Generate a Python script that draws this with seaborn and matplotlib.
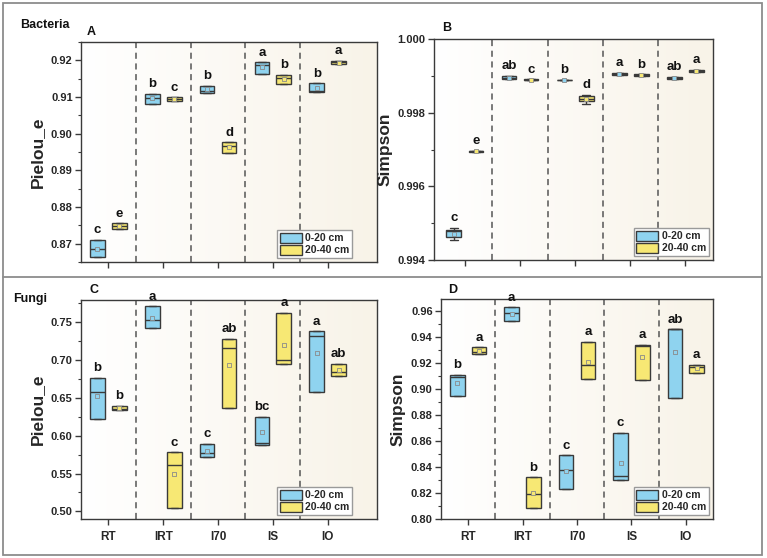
import matplotlib
matplotlib.use('Agg')
import matplotlib.pyplot as plt
from matplotlib.patches import Patch, Rectangle
from matplotlib.lines import Line2D
from matplotlib.colors import LinearSegmentedColormap
from matplotlib.ticker import FormatStrFormatter, MultipleLocator
import numpy as np
import pandas as pd
import seaborn as sns

# ---------------- data ----------------
groups = ['RT', 'IRT', 'I70', 'IS', 'IO']
depths = ['0-20 cm', '20-40 cm']

# A: bacteria, Pielou_e
A_lo_1 = [0.8664, 0.9082, 0.9112, 0.9162, 0.9115]
A_med_1 = [0.8685, 0.9096, 0.9116, 0.9188, 0.9117]
A_hi_1 = [0.8711, 0.9109, 0.9131, 0.9195, 0.9137]
A_mean_1 = [0.8686, 0.9096, 0.9121, 0.9183, 0.9125]
A_let_1 = ['c', 'b', 'b', 'a', 'b']
A_lo_2 = [0.8739, 0.9089, 0.8947, 0.9136, 0.9189]
A_med_2 = [0.8747, 0.9095, 0.8967, 0.9152, 0.9195]
A_hi_2 = [0.8756, 0.9099, 0.8976, 0.9161, 0.9199]
A_mean_2 = [0.8747, 0.9094, 0.8965, 0.9150, 0.9194]
A_let_2 = ['e', 'c', 'd', 'b', 'a']

# B: bacteria, Simpson
B_wlo_1 = [0.99453, 0.99891, 0.99888, 0.99902, 0.99891]
B_lo_1 = [0.99462, 0.99891, 0.99888, 0.99902, 0.99891]
B_med_1 = [0.99479, 0.99895, 0.99889, 0.99906, 0.99895]
B_hi_1 = [0.99482, 0.99900, 0.99890, 0.99909, 0.99898]
B_whi_1 = [0.99487, 0.99900, 0.99890, 0.99909, 0.99898]
B_mean_1 = [0.99471, 0.99895, 0.99889, 0.99906, 0.99895]
B_let_1 = ['c', 'ab', 'b', 'a', 'ab']
B_wlo_2 = [0.99692, 0.99888, 0.99824, 0.99900, 0.99911]
B_lo_2 = [0.99692, 0.99888, 0.99832, 0.99900, 0.99911]
B_med_2 = [0.99695, 0.99889, 0.99837, 0.99902, 0.99914]
B_hi_2 = [0.99697, 0.99891, 0.99844, 0.99904, 0.99916]
B_whi_2 = [0.99697, 0.99891, 0.99849, 0.99904, 0.99916]
B_mean_2 = [0.99695, 0.99889, 0.99838, 0.99902, 0.99914]
B_let_2 = ['e', 'c', 'd', 'b', 'a']

# C: fungi, Pielou_e
C_lo_1 = [0.6226, 0.7425, 0.5720, 0.5883, 0.6573]
C_med_1 = [0.6573, 0.7526, 0.5769, 0.5901, 0.7311]
C_hi_1 = [0.6762, 0.7711, 0.5892, 0.6248, 0.7381]
C_mean_1 = [0.6525, 0.7557, 0.5795, 0.6050, 0.7091]
C_let_1 = ['b', 'a', 'c', 'bc', 'a']
C_lo_2 = [0.6336, 0.5044, 0.6366, 0.6951, 0.6788]
C_med_2 = [0.6353, 0.5611, 0.7153, 0.7003, 0.6845]
C_hi_2 = [0.6397, 0.5782, 0.7276, 0.7623, 0.6946]
C_mean_2 = [0.6371, 0.5488, 0.6938, 0.7197, 0.6872]
C_let_2 = ['b', 'c', 'ab', 'a', 'ab']

# D: fungi, Simpson
D_lo_1 = [0.8948, 0.9523, 0.8231, 0.8298, 0.8930]
D_med_1 = [0.9092, 0.9585, 0.8380, 0.8329, 0.9461]
D_hi_1 = [0.9110, 0.9633, 0.8493, 0.8665, 0.9461]
D_mean_1 = [0.9050, 0.9582, 0.8370, 0.8434, 0.9289]
D_let_1 = ['b', 'a', 'c', 'c', 'ab']
D_lo_2 = [0.9269, 0.8085, 0.9081, 0.9068, 0.9127]
D_med_2 = [0.9284, 0.8193, 0.9189, 0.9335, 0.9171]
D_hi_2 = [0.9325, 0.8321, 0.9366, 0.9341, 0.9187]
D_mean_2 = [0.9297, 0.8203, 0.9212, 0.9251, 0.9163]
D_let_2 = ['a', 'b', 'a', 'a', 'a']

pal = {'0-20 cm': '#8fd3ef', '20-40 cm': '#f7e874'}
edge = '#3a3a3a'

sns.set_style('ticks')
plt.rcParams['font.family'] = ['Liberation Sans', 'DejaVu Sans']
plt.rcParams['font.weight'] = 'bold'

W, H = 767, 558
fig = plt.figure(figsize=(W / 100, H / 100), dpi=100)
bg_cmap = LinearSegmentedColormap.from_list('bg', ['#ffffff', '#f8f3e8'])


def box_frame(lo1, med1, hi1, lo2, med2, hi2,
              wlo1=None, whi1=None, wlo2=None, whi2=None):
    # five values per box -> q1 = lo, median = med, q3 = hi, whiskers = wlo/whi
    wlo1 = wlo1 or lo1
    whi1 = whi1 or hi1
    wlo2 = wlo2 or lo2
    whi2 = whi2 or hi2
    rows = []
    for d, parts in zip(depths, [(wlo1, lo1, med1, hi1, whi1),
                                 (wlo2, lo2, med2, hi2, whi2)]):
        for i, g in enumerate(groups):
            for p in parts:
                rows.append((g, d, p[i]))
    return pd.DataFrame(rows, columns=['group', 'depth', 'value'])


def mean_frame(m1, m2):
    return pd.DataFrame({'group': groups * 2,
                         'depth': [depths[0]] * 5 + [depths[1]] * 5,
                         'value': m1 + m2})


def px_rect(l, t, r, b):
    return [l / W, 1 - b / H, (r - l) / W, (b - t) / H]


def panel(rect, df, mdf, tops, letters, ylim, major, fmt, ylabel,
          xlim, show_x, leg_x):
    ax = fig.add_axes(rect)
    ax.imshow(np.linspace(0, 1, 256)[None, :], extent=[0, 1, 0, 1],
              transform=ax.transAxes, aspect='auto', cmap=bg_cmap, zorder=0)
    sns.boxplot(data=df, x='group', y='value', hue='depth', order=groups,
                hue_order=depths, palette=pal, saturation=1, width=0.8,
                gap=0.33, whis=(0, 100), linecolor=edge, linewidth=1,
                legend=False, ax=ax, zorder=3)
    sns.stripplot(data=mdf, x='group', y='value', hue='depth', order=groups,
                  hue_order=depths, palette=pal, dodge=True, jitter=False,
                  marker='s', size=2.6, edgecolor='#8a8a8a', linewidth=0.6,
                  legend=False, ax=ax, zorder=5)
    for k, off in enumerate([-0.2, 0.2]):
        for i in range(len(groups)):
            ax.annotate(letters[k][i], (i + off, tops[k][i]),
                        xytext=(0, 2.5), textcoords='offset points',
                        ha='center', va='bottom', fontsize=9.5,
                        fontweight='bold', color='#111111',
                        annotation_clip=False, zorder=6)
    for s in [0.5, 1.5, 2.5, 3.5]:
        ax.axvline(s, color='#555555', lw=1.1, ls=(0, (4, 3)), zorder=2)
    ax.set_xlim(*xlim)
    ax.set_ylim(*ylim)
    ax.yaxis.set_major_locator(MultipleLocator(major))
    ax.yaxis.set_minor_locator(MultipleLocator(major / 2))
    ax.yaxis.set_major_formatter(FormatStrFormatter(fmt))
    ax.tick_params(axis='both', which='major', direction='out', length=4,
                   width=1, color=edge, labelsize=8, pad=2)
    ax.tick_params(axis='y', which='minor', direction='out', length=2.5,
                   width=0.8, color=edge)
    for lab in ax.get_yticklabels() + ax.get_xticklabels():
        lab.set_fontweight('bold')
    ax.set_xlabel('')
    ax.set_ylabel(ylabel, fontsize=12.5, fontweight='bold', labelpad=4)
    if not show_x:
        ax.tick_params(axis='x', labelbottom=False)
    else:
        ax.tick_params(axis='x', labelsize=8.5, pad=5)
    for sp in ax.spines.values():
        sp.set_visible(True)
        sp.set_color(edge)
        sp.set_linewidth(1)
    handles = [Patch(facecolor=pal[d], edgecolor=edge, lw=1, label=d)
               for d in depths]
    ax.legend(handles=handles, loc='lower right',
              bbox_to_anchor=(leg_x, 0), bbox_transform=ax.transAxes,
              fontsize=7.5, frameon=True, fancybox=False, framealpha=1,
              edgecolor='#9a9a9a', handlelength=2.1, handleheight=1.1,
              labelspacing=0.15, borderpad=0.25, handletextpad=0.35,
              borderaxespad=0.4,
              prop={'weight': 'bold', 'size': 7.5})
    return ax


dfA = box_frame(A_lo_1, A_med_1, A_hi_1, A_lo_2, A_med_2, A_hi_2)
panel(px_rect(81, 42, 377, 262), dfA, mean_frame(A_mean_1, A_mean_2),
      [A_hi_1, A_hi_2], [A_let_1, A_let_2], (0.865, 0.925), 0.01, '%.2f',
      'Pielou_e', (-0.5, 4.9), False, 0.93)

dfB = box_frame(B_lo_1, B_med_1, B_hi_1, B_lo_2, B_med_2, B_hi_2,
                B_wlo_1, B_whi_1, B_wlo_2, B_whi_2)
panel(px_rect(434, 39, 713, 260), dfB, mean_frame(B_mean_1, B_mean_2),
      [B_whi_1, B_whi_2], [B_let_1, B_let_2], (0.994, 1.000), 0.002, '%.3f',
      'Simpson', (-0.56, 4.5), False, 1.0)

dfC = box_frame(C_lo_1, C_med_1, C_hi_1, C_lo_2, C_med_2, C_hi_2)
panel(px_rect(81, 300, 377, 519), dfC, mean_frame(C_mean_1, C_mean_2),
      [C_hi_1, C_hi_2], [C_let_1, C_let_2], (0.49, 0.779), 0.05, '%.2f',
      'Pielou_e', (-0.5, 4.9), True, 0.93)

dfD = box_frame(D_lo_1, D_med_1, D_hi_1, D_lo_2, D_med_2, D_hi_2)
panel(px_rect(441, 299, 713, 519), dfD, mean_frame(D_mean_1, D_mean_2),
      [D_hi_1, D_hi_2], [D_let_1, D_let_2], (0.80, 0.9695), 0.02, '%.2f',
      'Simpson', (-0.5, 4.5), True, 1.0)

# panel titles
for txt, x, y in [('Bacteria', 20, 25), ('A', 87, 32), ('B', 442, 28),
                  ('Fungi', 13, 299), ('C', 90, 290), ('D', 448, 290)]:
    fig.text(x / W, 1 - y / H, txt, ha='left', va='center', fontsize=9,
             fontweight='bold', color='#111111')

# outer frames
fig.add_artist(Rectangle((3 / W, 3 / H), 759 / W, 552 / H,
                         transform=fig.transFigure, fill=False,
                         ec='#8c8c8c', lw=1.3))
fig.add_artist(Line2D([3 / W, 762 / W], [1 - 277 / H, 1 - 277 / H],
                      transform=fig.transFigure, color='#8c8c8c', lw=1.3))

fig.savefig('out.png', dpi=100)
